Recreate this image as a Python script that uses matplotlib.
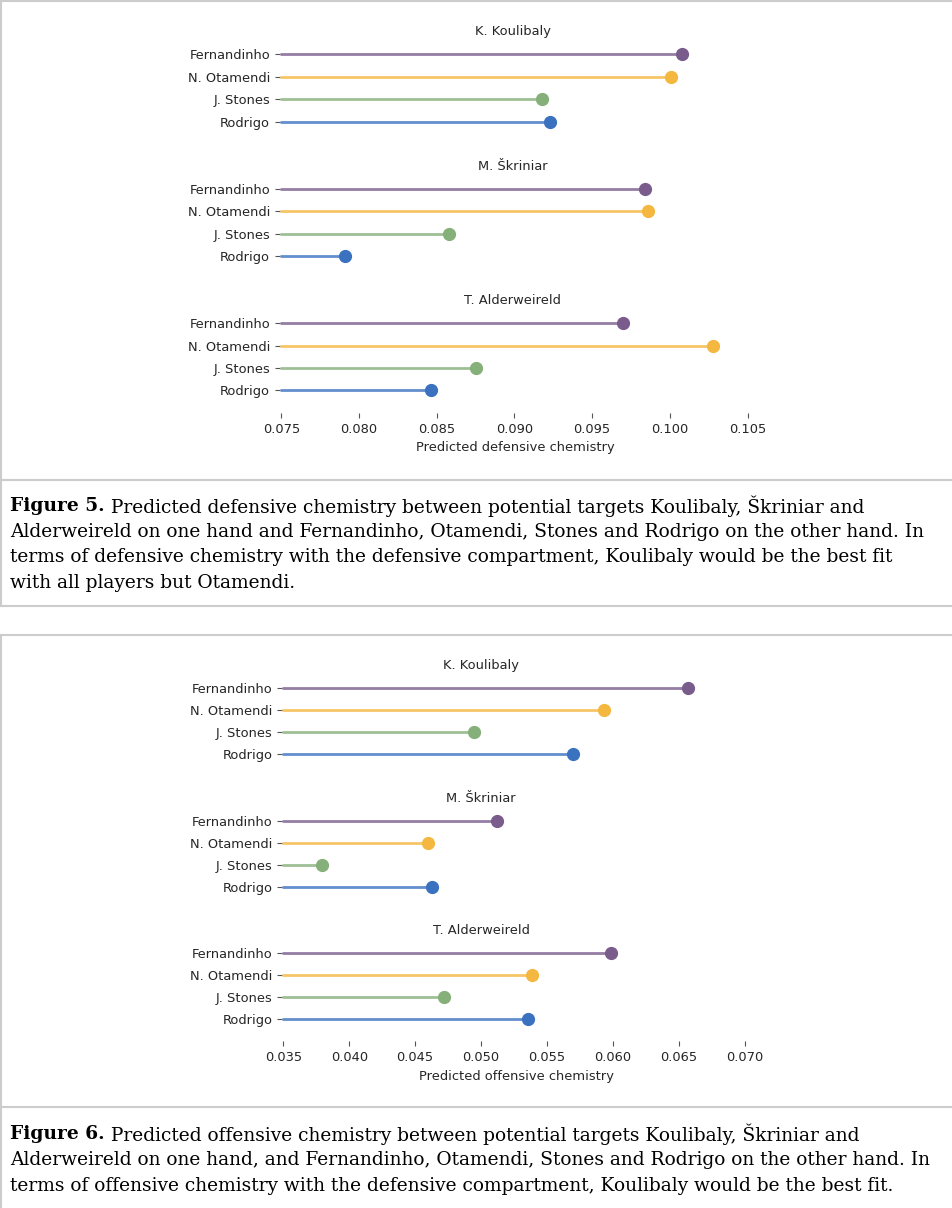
import matplotlib
matplotlib.use("Agg")
import matplotlib.pyplot as plt
from matplotlib.lines import Line2D

# data
players = ["Fernandinho", "N. Otamendi", "J. Stones", "Rodrigo"]
targets = ["K. Koulibaly", "M. Škriniar", "T. Alderweireld"]
colors = ["#7a5c8c", "#f4b740", "#86b07a", "#3b72c0"]

def_koulibaly = [0.1008, 0.1001, 0.0918, 0.0923]
def_skriniar = [0.0984, 0.0986, 0.0858, 0.0791]
def_alderweireld = [0.0970, 0.1028, 0.0875, 0.0846]

off_koulibaly = [0.0657, 0.0593, 0.0495, 0.0570]
off_skriniar = [0.0512, 0.0460, 0.0379, 0.0463]
off_alderweireld = [0.0599, 0.0539, 0.0472, 0.0536]

def_ticks = [0.075, 0.080, 0.085, 0.090, 0.095, 0.100, 0.105]
off_ticks = [0.035, 0.040, 0.045, 0.050, 0.055, 0.060, 0.065, 0.070]

caption5 = [
    ("Figure 5.", " Predicted defensive chemistry between potential targets Koulibaly, Škriniar and"),
    ("", "Alderweireld on one hand and Fernandinho, Otamendi, Stones and Rodrigo on the other hand. In"),
    ("", "terms of defensive chemistry with the defensive compartment, Koulibaly would be the best fit"),
    ("", "with all players but Otamendi."),
]
caption6 = [
    ("Figure 6.", " Predicted offensive chemistry between potential targets Koulibaly, Škriniar and"),
    ("", "Alderweireld on one hand, and Fernandinho, Otamendi, Stones and Rodrigo on the other hand. In"),
    ("", "terms of offensive chemistry with the defensive compartment, Koulibaly would be the best fit."),
]

W, H = 952, 1208
fig = plt.figure(figsize=(W / 100, H / 100), dpi=100)
fig.patch.set_facecolor("white")

TXT = "#262626"
FS = 9.4
BORDER = "#cccccc"


def px_axes(left, top, right, bottom):
    return fig.add_axes([left / W, 1 - bottom / H, (right - left) / W, (bottom - top) / H])


def lollipop(ax, groups, xlim, ticks, title_x, xlabel):
    yt, yl = [], []
    for g, (name, vals) in enumerate(zip(targets, groups)):
        base = g * 6
        ax.text(title_x, base, name, ha="center", va="center", fontsize=FS, color=TXT)
        for i, (p, v) in enumerate(zip(players, vals)):
            y = base + 1 + i
            ax.hlines(y, xlim[0], v, color=colors[i], lw=2, alpha=0.8)
            ax.plot(v, y, "o", color=colors[i], ms=8.5)
            yt.append(y)
            yl.append(p)
    ax.set_xlim(*xlim)
    ax.set_ylim(17, -1)
    ax.set_yticks(yt)
    ax.set_yticklabels(yl)
    ax.set_xticks(ticks)
    ax.set_xticklabels([f"{t:.3f}" for t in ticks])
    ax.set_xlabel(xlabel, fontsize=FS, color=TXT)
    for s in ax.spines.values():
        s.set_visible(False)
    ax.tick_params(axis="both", labelsize=FS, labelcolor=TXT, color="#555555", width=0.8)
    ax.set_facecolor("white")


ax1 = px_axes(279.8, 9.6, 750.7, 412.8)
lollipop(ax1, [def_koulibaly, def_skriniar, def_alderweireld], (0.0749, 0.1052),
         def_ticks, 0.0899, "Predicted defensive chemistry")

ax2 = px_axes(282.0, 643.9, 751.2, 1041.4)
lollipop(ax2, [off_koulibaly, off_skriniar, off_alderweireld], (0.0349, 0.0705),
         off_ticks, 0.0500, "Predicted offensive chemistry")


def hline(y, x0=0, x1=W):
    fig.add_artist(Line2D([x0 / W, x1 / W], [1 - y / H, 1 - y / H],
                          transform=fig.transFigure, color=BORDER, lw=1.5))


def vline(x, y0, y1):
    fig.add_artist(Line2D([x / W, x / W], [1 - y0 / H, 1 - y1 / H],
                          transform=fig.transFigure, color=BORDER, lw=1.5))


# panel boxes
hline(1)
hline(480)
hline(606)
vline(1, 0, 606)
hline(635)
hline(1107)
vline(1, 635, H)

renderer = fig.canvas.get_renderer()
CFS = 13.4


def caption(lines, y0, step):
    for k, (bold, rest) in enumerate(lines):
        y = 1 - (y0 + k * step) / H
        x = 10 / W
        if bold:
            t = fig.text(x, y, bold, fontsize=CFS, fontweight="bold", family="DejaVu Serif",
                         va="center", ha="left", color="black")
            bb = t.get_window_extent(renderer=renderer)
            x = bb.x1 / W
        fig.text(x, y, rest, fontsize=CFS, family="DejaVu Serif", va="center", ha="left",
                 color="black")


caption(caption5, 506, 25.7)
caption(caption6, 1134, 26)

fig.savefig("out.png", dpi=100, facecolor="white")
